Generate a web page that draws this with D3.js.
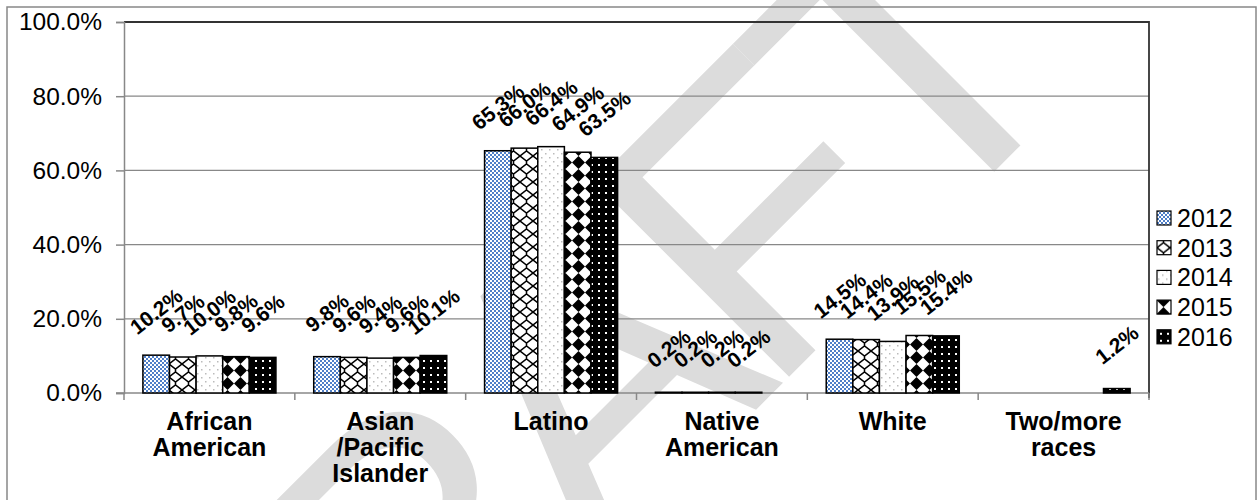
<!DOCTYPE html>
<html>
<head>
<meta charset="utf-8">
<script src="https://cdn.jsdelivr.net/npm/d3@7"></script>
<style>
  body { margin: 0; background: #fff; }
  svg { display: block; font-family: 'Liberation Sans', Arial, sans-serif; }
</style>
</head>
<body>
<script>
// chart data
const categories = ['African American', 'Asian /Pacific Islander', 'Latino', 'Native American', 'White', 'Two/more races'];
const years = ['2012', '2013', '2014', '2015', '2016'];
const values2012 = [10.2, 9.8, 65.3, 0.2, 14.5, null];
const values2013 = [9.7, 9.6, 66.0, 0.2, 14.4, null];
const values2014 = [10.0, 9.4, 66.4, 0.2, 13.9, null];
const values2015 = [9.8, 9.6, 64.9, 0.2, 15.5, null];
const values2016 = [9.6, 10.1, 63.5, null, 15.4, 1.2];
const yTicks = [0, 20, 40, 60, 80, 100];

const seriesValues = [values2012, values2013, values2014, values2015, values2016];

const width = 1259;
const height = 500;
const plot = { left: 124, right: 1149, top: 22, bottom: 393 };

const svg = d3.select('body').append('svg')
  .attr('width', width)
  .attr('height', height);

// fill patterns, one per year
const defs = svg.append('defs');

const p2012 = defs.append('pattern').attr('id', 'pat2012')
  .attr('patternUnits', 'userSpaceOnUse').attr('width', 4).attr('height', 4);
p2012.append('rect').attr('width', 4).attr('height', 4).attr('fill', '#fff');
p2012.append('rect').attr('width', 2).attr('height', 2).attr('fill', '#4f7fc8');
p2012.append('rect').attr('x', 2).attr('y', 2).attr('width', 2).attr('height', 2).attr('fill', '#4f7fc8');

const p2013 = defs.append('pattern').attr('id', 'pat2013')
  .attr('patternUnits', 'userSpaceOnUse').attr('width', 13).attr('height', 13);
p2013.append('rect').attr('width', 13).attr('height', 13).attr('fill', '#fff');
p2013.append('path').attr('d', 'M0,0 L6.5,5 L13,0 M0,13 L6.5,8 L13,13 M6.5,5 L6.5,8')
  .attr('stroke', '#000').attr('stroke-width', 1.5).attr('fill', 'none');

const p2014 = defs.append('pattern').attr('id', 'pat2014')
  .attr('patternUnits', 'userSpaceOnUse').attr('width', 8).attr('height', 8);
p2014.append('rect').attr('width', 8).attr('height', 8).attr('fill', '#fff');
p2014.append('rect').attr('x', 1).attr('y', 1).attr('width', 1.5).attr('height', 1.5).attr('fill', '#bbb');
p2014.append('rect').attr('x', 5).attr('y', 5).attr('width', 1.5).attr('height', 1.5).attr('fill', '#bbb');

const p2015 = defs.append('pattern').attr('id', 'pat2015')
  .attr('patternUnits', 'userSpaceOnUse').attr('width', 13).attr('height', 13);
p2015.append('rect').attr('width', 13).attr('height', 13).attr('fill', '#fff');
p2015.append('path').attr('d', 'M6.5,0 L13,6.5 L6.5,13 L0,6.5 Z').attr('fill', '#000');

const p2016 = defs.append('pattern').attr('id', 'pat2016')
  .attr('patternUnits', 'userSpaceOnUse').attr('width', 7).attr('height', 7);
p2016.append('rect').attr('width', 7).attr('height', 7).attr('fill', '#000');
p2016.append('rect').attr('x', 3).attr('y', 3).attr('width', 2).attr('height', 2).attr('fill', '#fff');

const fills = years.map(y => `url(#pat${y})`);

// watermark sits behind everything
svg.append('text')
  .attr('transform', 'translate(551,419) rotate(-45)')
  .attr('text-anchor', 'middle')
  .attr('dominant-baseline', 'central')
  .attr('font-size', 400)
  .attr('letter-spacing', -25)
  .attr('fill', '#dcdcdc')
  .text('DRAFT');

// outer border
svg.append('rect')
  .attr('x', 7).attr('y', 7)
  .attr('width', 1249).attr('height', 520)
  .attr('fill', 'none').attr('stroke', '#888').attr('stroke-width', 1.5);

// scales
const x0 = d3.scaleBand().domain(categories).range([plot.left, plot.right]);
const x1 = d3.scaleBand().domain(years).range([0, x0.bandwidth()]).paddingOuter(0.71);
const y = d3.scaleLinear().domain([0, 100]).range([plot.bottom, plot.top]);

// gridlines
svg.append('g')
  .selectAll('line').data(yTicks.filter(d => d > 0 && d < 100))
  .enter().append('line')
  .attr('x1', plot.left).attr('x2', plot.right)
  .attr('y1', d => y(d)).attr('y2', d => y(d))
  .attr('stroke', '#888').attr('stroke-width', 1.3);

// plot area top and right edge
svg.append('path')
  .attr('d', `M${plot.left},${plot.top} H${plot.right} V${plot.bottom + 5}`)
  .attr('fill', 'none').attr('stroke', '#333').attr('stroke-width', 1.8);

// y axis
const yAxis = d3.axisLeft(y)
  .tickValues(yTicks)
  .tickFormat(d => d3.format('.1f')(d) + '%')
  .tickSize(8)
  .tickPadding(14);

const yAxisG = svg.append('g')
  .attr('transform', `translate(${plot.left},0)`)
  .call(yAxis);
yAxisG.select('.domain').attr('stroke', '#888').attr('stroke-width', 1.5);
yAxisG.selectAll('.tick line').attr('stroke', '#888').attr('stroke-width', 1.5);
yAxisG.selectAll('.tick text')
  .attr('font-family', "'Liberation Sans', Arial, sans-serif")
  .attr('font-size', 24.5)
  .attr('fill', '#000');

// x axis line and category ticks
svg.append('line')
  .attr('x1', plot.left - 8).attr('x2', plot.right)
  .attr('y1', plot.bottom).attr('y2', plot.bottom)
  .attr('stroke', '#888').attr('stroke-width', 1.5);

svg.append('g')
  .selectAll('line').data(categories.concat(['end']))
  .enter().append('line')
  .attr('x1', (d, i) => i < categories.length ? x0(d) : plot.right)
  .attr('x2', (d, i) => i < categories.length ? x0(d) : plot.right)
  .attr('y1', plot.bottom).attr('y2', plot.bottom + 7)
  .attr('stroke', '#888').attr('stroke-width', 1.5);

// category labels, split on spaces into lines
const catLabels = svg.append('g')
  .attr('font-weight', 'bold')
  .attr('font-size', 25)
  .attr('text-anchor', 'middle');

categories.forEach(c => {
  const t = catLabels.append('text')
    .attr('x', x0(c) + x0.bandwidth() / 2)
    .attr('y', 430);
  c.split(' ').forEach((line, i) => {
    t.append('tspan')
      .attr('x', x0(c) + x0.bandwidth() / 2)
      .attr('dy', i === 0 ? 0 : 26)
      .text(line);
  });
});

// bars
const barData = [];
seriesValues.forEach((vals, s) => {
  vals.forEach((v, c) => {
    if (v !== null) barData.push({ year: years[s], cat: categories[c], value: v, s: s });
  });
});

svg.append('g')
  .selectAll('rect').data(barData)
  .enter().append('rect')
  .attr('x', d => x0(d.cat) + x1(d.year))
  .attr('y', d => y(d.value))
  .attr('width', x1.bandwidth())
  .attr('height', d => plot.bottom - y(d.value))
  .attr('fill', d => fills[d.s])
  .attr('stroke', '#000')
  .attr('stroke-width', 1.5);

// rotated data labels
svg.append('g')
  .selectAll('text').data(barData)
  .enter().append('text')
  .attr('transform', d => `translate(${x0(d.cat) + x1(d.year) + x1.bandwidth() / 2},${y(d.value) - 44}) rotate(-38)`)
  .attr('text-anchor', 'middle')
  .attr('dominant-baseline', 'central')
  .attr('font-weight', 'bold')
  .attr('font-size', 21)
  .text(d => d3.format('.1f')(d.value) + '%');

// legend
const legend = svg.append('g')
  .attr('transform', 'translate(1157,218)');

const legendItems = legend.selectAll('g').data(years)
  .enter().append('g')
  .attr('transform', (d, i) => `translate(0,${i * 29.7})`);

legendItems.append('rect')
  .attr('x', 0).attr('y', -7)
  .attr('width', 14).attr('height', 14)
  .attr('fill', (d, i) => fills[i])
  .attr('stroke', '#000').attr('stroke-width', 1.2);

legendItems.append('text')
  .attr('x', 20)
  .attr('dominant-baseline', 'central')
  .attr('font-size', 25)
  .text(d => d);
</script>
</body>
</html>
